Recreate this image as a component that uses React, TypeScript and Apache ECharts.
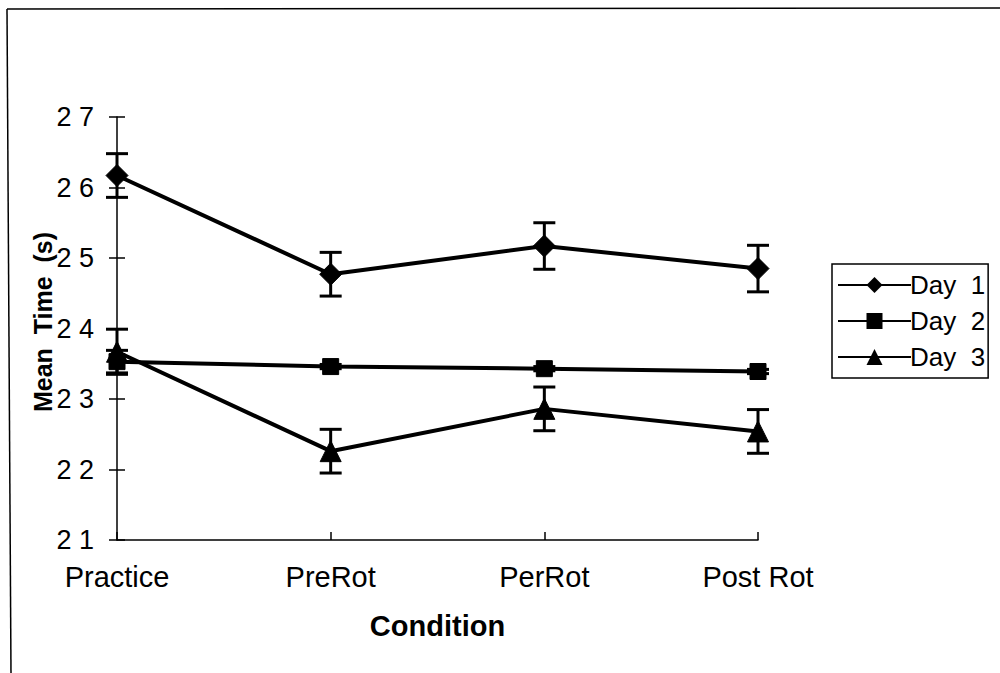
import React, { useEffect, useRef } from "react";
import * as echarts from "echarts";

const categories = ["Practice", "PreRot", "PerRot", "Post Rot"];
const seriesNames = ["Day 1", "Day 2", "Day 3"];
const day1 = [26.17, 24.77, 25.17, 24.85];
const day1Err = [0.31, 0.31, 0.33, 0.33];
const day2 = [23.53, 23.46, 23.43, 23.39];
const day2Err = [0.16, 0.03, 0.03, 0.03];
const day3 = [23.67, 22.26, 22.86, 22.54];
const day3Err = [0.32, 0.31, 0.31, 0.31];
const yTicks = [21, 22, 23, 24, 25, 26, 27];
const yTitle = "Mean  Time  (s)";
const xTitle = "Condition";

const FONT = "'Liberation Sans', Arial, Helvetica, sans-serif";

export default function App() {
  const ref = useRef<HTMLDivElement>(null);
  useEffect(() => {
    if (!ref.current) return;
    const chart = echarts.init(ref.current, null, { renderer: "svg" });
    const values = [day1, day2, day3];
    const errs = [day1Err, day2Err, day3Err];
    const symbols = ["diamond", "rect", "triangle"];
    const symbolSizes = [22, 16, 21];

    const errData: number[][] = [];
    values.forEach((vals, s) => {
      vals.forEach((v, i) => {
        errData.push([i, v - errs[s][i], v + errs[s][i]]);
      });
    });

    const lineSeries = values.map((vals, s) => ({
      type: "line",
      name: seriesNames[s],
      data: vals,
      symbol: symbols[s],
      symbolSize: symbolSizes[s],
      lineStyle: { color: "#000", width: 4 },
      itemStyle: { color: "#000", borderColor: "#000" },
      z: 3,
    }));

    const option: any = {
      animation: false,
      backgroundColor: "#fff",
      textStyle: { fontFamily: FONT, color: "#000" },
      grid: { left: 117, right: 242, top: 117, bottom: 133 },
      legend: {
        orient: "vertical",
        left: 832,
        top: 264,
        padding: [8, 3, 8, 5],
        itemGap: 10,
        itemWidth: 73,
        itemHeight: 20,
        borderColor: "#000",
        borderWidth: 1.5,
        data: seriesNames,
        formatter: (name: string) => name.replace(" ", "  "),
        textStyle: { fontFamily: FONT, fontSize: 26, color: "#000", padding: [0, 0, 0, -6] },
      },
      xAxis: {
        type: "category",
        data: categories,
        boundaryGap: false,
        axisLine: { lineStyle: { color: "#000", width: 1.5 } },
        axisTick: { inside: true, length: 8, lineStyle: { color: "#000", width: 1.5 } },
        axisLabel: { fontSize: 29, color: "#000", margin: 22, fontFamily: FONT },
        name: xTitle,
        nameLocation: "middle",
        nameGap: 71,
        nameTextStyle: { fontSize: 29, fontWeight: "bold", color: "#000", fontFamily: FONT },
        splitLine: { show: false },
      },
      yAxis: [
        {
          type: "value",
          min: yTicks[0],
          max: yTicks[yTicks.length - 1],
          interval: 1,
          axisLine: { show: true, lineStyle: { color: "#000", width: 1.5 } },
          axisTick: { show: true, inside: false, length: 8, lineStyle: { color: "#000", width: 1.5 } },
          axisLabel: {
            fontSize: 27,
            color: "#000",
            margin: 23,
            fontFamily: FONT,
            formatter: (v: number) => String(v).split("").join(" "),
          },
          splitLine: { show: false },
        },
        {
          type: "value",
          position: "left",
          min: yTicks[0],
          max: yTicks[yTicks.length - 1],
          interval: 1,
          axisLine: { show: false },
          axisTick: { show: true, inside: true, length: 8, lineStyle: { color: "#000", width: 1.5 } },
          axisLabel: { show: false },
          splitLine: { show: false },
        },
      ],
      series: [
        ...lineSeries,
        {
          type: "custom",
          name: "err",
          data: errData,
          z: 4,
          renderItem: (params: any, api: any) => {
            const x = api.value(0);
            const lo = api.coord([x, api.value(1)]);
            const hi = api.coord([x, api.value(2)]);
            const hw = 11;
            const st = { stroke: "#000", lineWidth: 3 };
            return {
              type: "group",
              children: [
                { type: "line", shape: { x1: lo[0], y1: lo[1], x2: hi[0], y2: hi[1] }, style: st },
                { type: "line", shape: { x1: lo[0] - hw, y1: lo[1], x2: lo[0] + hw, y2: lo[1] }, style: st },
                { type: "line", shape: { x1: hi[0] - hw, y1: hi[1], x2: hi[0] + hw, y2: hi[1] }, style: st },
              ],
            };
          },
        },
      ],
      graphic: [
        { type: "line", shape: { x1: 7, y1: 9, x2: 1000, y2: 8 }, style: { stroke: "#000", lineWidth: 1.5 } },
        { type: "line", shape: { x1: 7, y1: 9, x2: 11, y2: 673 }, style: { stroke: "#000", lineWidth: 1.5 } },
        {
          type: "text",
          x: 43,
          y: 322,
          rotation: Math.PI / 2,
          style: {
            text: yTitle,
            fontFamily: FONT,
            fontSize: 25,
            fontWeight: "bold",
            fill: "#000",
            align: "center",
            verticalAlign: "middle",
          },
        },
      ],
    };
    chart.setOption(option);
    return () => chart.dispose();
  }, []);
  return (
    <div
      ref={ref}
      style={{ position: "absolute", left: 0, top: 0, width: 1000, height: 673, background: "#fff" }}
    />
  );
}
